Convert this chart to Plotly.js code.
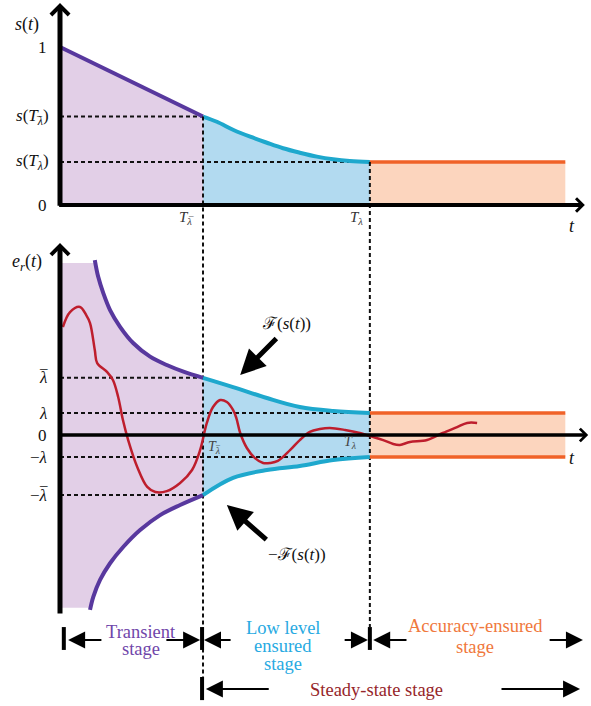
<!DOCTYPE html>
<html><head><meta charset="utf-8">
<script src="https://cdn.plot.ly/plotly-3.0.1.min.js"></script>
<style>html,body{margin:0;padding:0;background:#fff}#chart{width:591px;height:706px}</style>
</head><body><div id="chart"></div>
<script>
// ---- key values ----
const T_LB = 3.0, T_L = 6.5, T_END = 10.6;
const S_LB = 0.56, S_L = 0.272;
const LAM_UP = 1, LAM_LO = -1, LAMBAR_UP = 2.6, LAMBAR_LO = -2.73;

// ---- top panel s(t) ----
const sPurpleT = [0, 3.0];
const sPurpleS = [1, 0.56];
const sCyanT = [3.0, 3.29, 3.64, 3.99, 4.34, 4.68, 5.03, 5.39, 5.73, 6.08, 6.5];
const sCyanS = [0.56, 0.527, 0.475, 0.432, 0.394, 0.359, 0.331, 0.306, 0.289, 0.278, 0.272];
const sOrangeT = [6.5, 10.6];
const sOrangeS = [0.272, 0.272];

// ---- bottom panel envelopes ±F(s(t)) ----
const upPurpleT = [0.73, 0.80, 0.91, 1.05, 1.26, 1.54, 1.89, 2.24, 2.59, 3.0];
const upPurpleE = [7.95, 7.20, 6.44, 5.68, 4.92, 4.17, 3.56, 3.18, 2.88, 2.6];
const upCyanT = [3.0, 3.63, 4.34, 5.03, 5.73, 6.5];
const upCyanE = [2.6, 2.18, 1.68, 1.27, 1.09, 1.0];
const loPurpleT = [0.63, 0.70, 0.84, 1.05, 1.33, 1.68, 2.10, 2.52, 3.0];
const loPurpleE = [-7.95, -7.35, -6.59, -5.83, -5.08, -4.32, -3.64, -3.18, -2.73];
const loCyanT = [3.0, 3.63, 4.34, 5.03, 5.73, 6.5];
const loCyanE = [-2.73, -1.95, -1.59, -1.41, -1.14, -1.0];
const bandT = [6.5, 10.6];
const FILL_TOP = 7.82, FILL_BOT = -7.85;

// ---- tracking error e_r(t) ----
const errT = [0.06,0.21,0.42,0.55,0.63,0.73,0.78,0.99,1.11,1.22,1.32,1.43,1.62,1.83,2.00,2.24,2.52,2.77,2.94,3.08,3.21,3.36,3.50,3.63,3.70,3.78,3.92,4.09,4.26,4.41,4.57,4.83,5.03,5.24,5.45,5.66,5.98,6.29,6.50,6.78,6.99,7.13,7.34,7.70,8.03,8.33,8.54,8.75];
const errE = [4.91,5.59,5.82,5.45,5.09,3.86,3.27,2.86,2.50,1.73,0.68,-0.23,-1.45,-2.36,-2.59,-2.55,-2.18,-1.59,-0.68,0.55,1.27,1.59,1.50,1.14,0.77,0.09,-0.59,-1.05,-1.27,-1.27,-1.18,-0.68,-0.23,0.14,0.27,0.32,0.23,0.09,-0.05,-0.23,-0.41,-0.45,-0.32,-0.23,0.09,0.36,0.55,0.55];

// ---- stage rows (in e units, below bottom panel) ----
const ROW1 = -9.32, ROW2 = -11.55;
const stageBars1 = [0.08, 2.98, 6.5];
const stageBars2 = [2.98];
const stageArrowTips1 = [0.17, 2.94, 3.02, 6.46, 6.57, 10.97];
const stageArrowTails1 = [0.90, 2.20, 3.61, 5.94, 7.30, 10.24];
const stageArrowTips2 = [3.06, 10.91];
const stageArrowTails2 = [4.41, 9.23];

// ---- axis ranges ----
const XR = [-1.2587, 11.139];
const Y1R = [-3.171, 1.2975];
const Y2R = [-12.318, 19.773];
function sToE(s) { const f = (s - Y1R[0]) / (Y1R[1] - Y1R[0]); return Y2R[0] + f * (Y2R[1] - Y2R[0]); }

const C = {
  purple: 'rgb(88,56,158)', cyan: 'rgb(30,168,205)', orange: 'rgb(240,98,40)', red: 'rgb(190,30,45)',
  pFill: 'rgb(226,207,231)', cFill: 'rgb(178,218,240)', oFill: 'rgb(252,213,190)'
};
const SERIF = 'Liberation Serif';
const DOT = {color: '#111', width: 2, dash: '4px,3px'};

const traces = [];
traces.push({x: sPurpleT, y: sPurpleS, fill: 'tozeroy', fillcolor: C.pFill, mode: 'lines', line: {width: 0}, yaxis: 'y'});
traces.push({x: sCyanT, y: sCyanS, fill: 'tozeroy', fillcolor: C.cFill, mode: 'lines', line: {width: 0}, yaxis: 'y'});
traces.push({x: sOrangeT, y: sOrangeS, fill: 'tozeroy', fillcolor: C.oFill, mode: 'lines', line: {width: 0}, yaxis: 'y'});
traces.push({x: [0, T_LB], y: [S_LB, S_LB], mode: 'lines', line: DOT, yaxis: 'y'});
traces.push({x: [0, T_L], y: [S_L, S_L], mode: 'lines', line: DOT, yaxis: 'y'});
traces.push({x: sPurpleT, y: sPurpleS, mode: 'lines', line: {color: C.purple, width: 4}, yaxis: 'y'});
traces.push({x: sCyanT, y: sCyanS, mode: 'lines', line: {color: C.cyan, width: 4, shape: 'spline'}, yaxis: 'y'});
traces.push({x: sOrangeT, y: sOrangeS, mode: 'lines', line: {color: C.orange, width: 3.5}, yaxis: 'y'});

const pPolyT = [0, upPurpleT[0]].concat(upPurpleT, loPurpleT.slice().reverse(), [loPurpleT[0], 0]);
const pPolyE = [FILL_TOP, FILL_TOP].concat(upPurpleE, loPurpleE.slice().reverse(), [FILL_BOT, FILL_BOT]);
traces.push({x: pPolyT, y: pPolyE, fill: 'toself', fillcolor: C.pFill, mode: 'lines', line: {width: 0}, yaxis: 'y2'});
traces.push({x: upCyanT.concat(loCyanT.slice().reverse()), y: upCyanE.concat(loCyanE.slice().reverse()), fill: 'toself', fillcolor: C.cFill, mode: 'lines', line: {width: 0}, yaxis: 'y2'});
traces.push({x: [bandT[0], bandT[1], bandT[1], bandT[0]], y: [LAM_UP, LAM_UP, LAM_LO, LAM_LO], fill: 'toself', fillcolor: C.oFill, mode: 'lines', line: {width: 0}, yaxis: 'y2'});
traces.push({x: [0, T_LB], y: [LAMBAR_UP, LAMBAR_UP], mode: 'lines', line: DOT, yaxis: 'y2'});
traces.push({x: [0, T_L], y: [LAM_UP, LAM_UP], mode: 'lines', line: DOT, yaxis: 'y2'});
traces.push({x: [0, T_L], y: [LAM_LO, LAM_LO], mode: 'lines', line: DOT, yaxis: 'y2'});
traces.push({x: [0, T_LB], y: [LAMBAR_LO, LAMBAR_LO], mode: 'lines', line: DOT, yaxis: 'y2'});
traces.push({x: [T_LB, T_LB], y: [sToE(S_LB), -11.0], mode: 'lines', line: DOT, yaxis: 'y2'});
traces.push({x: [T_L, T_L], y: [sToE(S_L), -8.73], mode: 'lines', line: DOT, yaxis: 'y2'});
traces.push({x: upPurpleT, y: upPurpleE, mode: 'lines', line: {color: C.purple, width: 4, shape: 'spline'}, yaxis: 'y2'});
traces.push({x: loPurpleT, y: loPurpleE, mode: 'lines', line: {color: C.purple, width: 4, shape: 'spline'}, yaxis: 'y2'});
traces.push({x: upCyanT, y: upCyanE, mode: 'lines', line: {color: C.cyan, width: 4, shape: 'spline'}, yaxis: 'y2'});
traces.push({x: loCyanT, y: loCyanE, mode: 'lines', line: {color: C.cyan, width: 4, shape: 'spline'}, yaxis: 'y2'});
traces.push({x: bandT, y: [LAM_UP, LAM_UP], mode: 'lines', line: {color: C.orange, width: 3.5}, yaxis: 'y2'});
traces.push({x: bandT, y: [LAM_LO, LAM_LO], mode: 'lines', line: {color: C.orange, width: 3.5}, yaxis: 'y2'});
traces.push({x: errT, y: errE, mode: 'lines', line: {color: C.red, width: 2.5, shape: 'spline', smoothing: 1}, yaxis: 'y2'});

traces.forEach(t => { t.hoverinfo = 'skip'; t.showlegend = false; });

const ann = [];
function arrow(x, y, ax, ay, yref, o) {
  ann.push(Object.assign({x: x, y: y, ax: ax, ay: ay, xref: 'x', yref: yref, axref: 'x', ayref: yref, text: '', showarrow: true, arrowcolor: '#000'}, o));
}
function label(text, x, y, yref, o) {
  const base = {text: text, x: x, y: y, xref: 'x', yref: yref, showarrow: false, font: {family: SERIF, size: 17, color: '#111'}};
  ann.push(Object.assign(base, o || {}));
}
arrow(0, 1.278, 0, -0.015, 'y', {arrowhead: 4, arrowwidth: 5, arrowsize: 0.7});
arrow(11.01, 0, -0.05, 0, 'y', {arrowhead: 4, arrowwidth: 4, arrowsize: 0.65});
arrow(0, 8.73, 0, -8.18, 'y2', {arrowhead: 4, arrowwidth: 5, arrowsize: 0.7});
arrow(11.08, 0, 0, 0, 'y2', {arrowhead: 4, arrowwidth: 3.5, arrowsize: 0.7});
arrow(3.78, 2.73, 4.57, 4.45, 'y2', {arrowhead: 2, arrowwidth: 5, arrowsize: 1});
arrow(3.50, -3.18, 4.36, -4.82, 'y2', {arrowhead: 2, arrowwidth: 5, arrowsize: 1});
stageArrowTips1.forEach((tp, i) => arrow(tp, ROW1, stageArrowTails1[i], ROW1, 'y2', {arrowhead: 2, arrowwidth: 2, arrowsize: 1.7}));
stageArrowTips2.forEach((tp, i) => arrow(tp, ROW2, stageArrowTails2[i], ROW2, 'y2', {arrowhead: 2, arrowwidth: 2, arrowsize: 1.7}));

const LAMBDA = '\u03BB';
const XL = -0.23;
// macron (bar) drawn as a separate small dash over a lambda
function bar(x, y, yref, anchor, xs, ys, size, color) {
  label('\u2013', x, y, yref, {xanchor: anchor, xshift: xs, yshift: ys, font: {family: SERIF, size: size, color: color || '#111'}});
}
label('<i>s</i>(<i>t</i>)', -0.69, 1.14, 'y', {font: {family: SERIF, size: 18, color: '#111'}});
label('1', XL, 1.0, 'y', {xanchor: 'right'});
label('<i>s</i>(<i>T</i><sub><i>' + LAMBDA + '</i></sub>)', XL + 0.05, S_LB, 'y', {xanchor: 'right'});
bar(XL + 0.05, S_LB, 'y', 'right', -6, 1, 10);
label('<i>s</i>(<i>T</i><sub><i>' + LAMBDA + '</i></sub>)', XL + 0.05, S_L, 'y', {xanchor: 'right'});
label('0', XL, 0, 'y', {xanchor: 'right'});
label('<i>T</i><sub><i>' + LAMBDA + '</i></sub>', 2.64, -0.085, 'y', {font: {family: SERIF, size: 15, color: '#333'}});
bar(2.64, -0.085, 'y', 'center', 5, 3, 9, '#333');
label('<i>T</i><sub><i>' + LAMBDA + '</i></sub>', 6.21, -0.085, 'y', {font: {family: SERIF, size: 15, color: '#333'}});
label('<i>t</i>', 10.74, -0.13, 'y', {font: {family: SERIF, size: 18, color: '#111'}});
label('<i>e</i><sub><i>r</i></sub>(<i>t</i>)', -0.69, 7.82, 'y2', {font: {family: SERIF, size: 18, color: '#111'}});
label('<i>' + LAMBDA + '</i>', XL, LAMBAR_UP, 'y2', {xanchor: 'right'});
bar(XL, LAMBAR_UP, 'y2', 'right', 1, 10, 15);
label('<i>' + LAMBDA + '</i>', XL, LAM_UP, 'y2', {xanchor: 'right'});
label('0', XL, 0, 'y2', {xanchor: 'right'});
label('\u2212<i>' + LAMBDA + '</i>', XL, LAM_LO, 'y2', {xanchor: 'right'});
label('\u2212<i>' + LAMBDA + '</i>', XL, LAMBAR_LO, 'y2', {xanchor: 'right'});
bar(XL, LAMBAR_LO, 'y2', 'right', 1, 10, 15);
label('<i>T</i><sub><i>' + LAMBDA + '</i></sub>', 3.23, -0.55, 'y2', {font: {family: SERIF, size: 14, color: '#444'}});
bar(3.23, -0.55, 'y2', 'center', 4, 3, 8, '#444');
label('<i>T</i><sub><i>' + LAMBDA + '</i></sub>', 6.08, -0.36, 'y2', {font: {family: SERIF, size: 14, color: '#444'}});
label('<i>t</i>', 10.74, -1.05, 'y2', {font: {family: SERIF, size: 18, color: '#111'}});
label('\u2131(<i>s</i>(<i>t</i>))', 4.76, 5.09, 'y2');
label('\u2212\u2131(<i>s</i>(<i>t</i>))', 4.97, -5.45, 'y2');
const fTr = {family: SERIF, size: 18.5, color: 'rgb(112,70,170)'};
const fLo = {family: SERIF, size: 18.5, color: 'rgb(40,170,226)'};
const fAc = {family: SERIF, size: 18.5, color: 'rgb(240,120,60)'};
const fSt = {family: SERIF, size: 18.5, color: 'rgb(150,38,42)'};
label('Transient', 1.70, -8.95, 'y2', {font: fTr});
label('stage', 1.70, -9.73, 'y2', {font: fTr});
label('Low level', 4.68, -8.77, 'y2', {font: fLo});
label('ensured', 4.68, -9.59, 'y2', {font: fLo});
label('stage', 4.68, -10.41, 'y2', {font: fLo});
label('Accuracy-ensured', 8.71, -8.68, 'y2', {font: fAc});
label('stage', 8.71, -9.64, 'y2', {font: fAc});
label('Steady-state stage', 6.63, -11.59, 'y2', {font: fSt});

const shapes = [];
stageBars1.forEach(t => shapes.push({type: 'line', xref: 'x', yref: 'y2', x0: t, x1: t, y0: -8.73, y1: -9.77, line: {color: '#000', width: 4}}));
stageBars2.forEach(t => shapes.push({type: 'line', xref: 'x', yref: 'y2', x0: t, x1: t, y0: -11.0, y1: -12.05, line: {color: '#000', width: 4}}));

const layout = {
  width: 591, height: 706, margin: {l: 0, r: 0, t: 0, b: 0},
  paper_bgcolor: '#fff', plot_bgcolor: '#fff', showlegend: false, hovermode: false,
  font: {family: SERIF},
  xaxis: {range: XR, visible: false, fixedrange: true},
  yaxis: {range: Y1R, visible: false, fixedrange: true},
  yaxis2: {range: Y2R, visible: false, fixedrange: true, overlaying: 'y', anchor: 'x'},
  annotations: ann, shapes: shapes
};
Plotly.newPlot('chart', traces, layout, {staticPlot: true, displayModeBar: false});
</script></body></html>
